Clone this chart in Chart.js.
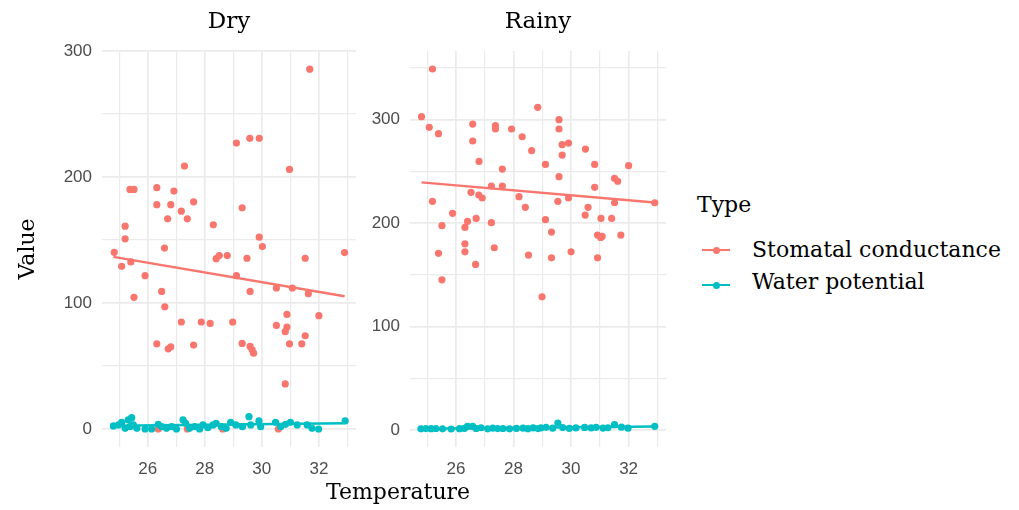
<!DOCTYPE html>
<html>
<head>
<meta charset="utf-8">
<script src="https://cdn.jsdelivr.net/npm/chart.js@4.4.1/dist/chart.umd.min.js"></script>
<style>
  html, body { margin: 0; padding: 0; background: #fff; }
  #wrap { position: relative; width: 1019px; height: 510px; overflow: hidden; font-family: "DejaVu Serif", serif; color: #000; }
  canvas { position: absolute; top: 0; }
  #dry { left: 0; }
  #rainy { left: 360px; }
  .txt { position: absolute; font-size: 22px; line-height: 26px; white-space: nowrap; }
  .sym { position: absolute; left: 702px; width: 28px; height: 2px; }
  .sym::after { content: ''; position: absolute; left: 10.5px; top: -2.5px; width: 7px; height: 7px; border-radius: 50%; background: inherit; }
</style>
</head>
<body>
<div id="wrap">
  <canvas id="dry" width="362" height="510"></canvas>
  <canvas id="rainy" width="312" height="510"></canvas>
  <div class="txt" style="left:326px; top:479px;">Temperature</div>
  <div class="txt" style="left:697px; top:192px;">Type</div>
  <div class="sym" style="top:249px; background:#F8766D;"></div>
  <div class="txt" style="left:752px; top:237px;">Stomatal conductance</div>
  <div class="sym" style="top:284px; background:#00BFC4;"></div>
  <div class="txt" style="left:752px; top:269px;">Water potential</div>
</div>
<script>
// Dry season - stomatal conductance
const dryScTemp = [31.68, 29.11, 29.58, 29.91, 27.29, 30.97, 25.38, 25.52, 26.32, 26.92,
  26.32, 26.81, 27.61, 27.18, 29.31, 26.70, 27.39, 25.21, 28.30, 25.21,
  29.91, 30.02, 26.59, 24.83, 32.90, 31.52, 28.40, 28.51, 28.79, 29.48,
  25.09, 25.41, 25.91, 25.52, 26.49, 26.60, 26.32, 26.72, 26.81, 27.18,
  27.61, 27.88, 28.19, 28.98, 29.11, 29.31, 29.59, 29.59, 29.66, 29.71,
  30.51, 30.51, 30.88, 30.88, 30.82, 30.97, 30.82, 31.07, 31.40, 31.52,
  31.63, 32.00, 26.37, 27.39, 28.63, 30.58];
const dryScValue = [285.6, 227, 230.7, 230.7, 208.7, 206, 190.1, 190.1, 191.5, 188.8,
  178, 178, 180.3, 172.9, 175.6, 166.8, 166.8, 161, 162, 150.9,
  152.2, 144.8, 143.6, 140.2, 140, 135.5, 135.2, 137.6, 137.6, 135.5,
  129.1, 132.6, 121.7, 104.5, 109.2, 97, 67.6, 63.6, 65.2, 84.9,
  66.6, 84.9, 83.8, 84.9, 121.7, 67.9, 109.2, 65.5, 62.8, 60.2,
  111.9, 82.2, 90.9, 80.9, 77.2, 67.6, 35.8, 111.9, 67.6, 74,
  107.4, 89.9, 0, 0, 0, 0];

// Dry season - water potential
const dryWpTemp = [24.80, 24.98, 25.09, 25.21, 25.32, 25.44, 25.38, 25.50, 25.62, 25.91,
  26.14, 26.37, 26.49, 26.66, 26.84, 27.01, 27.24, 27.33, 27.47, 27.65,
  27.82, 27.94, 28.11, 28.29, 28.40, 28.58, 28.75, 28.91, 29.09, 29.32,
  29.55, 29.61, 29.90, 29.96, 30.48, 30.66, 30.83, 31.00, 31.24, 31.59,
  31.76, 31.99, 32.92];
const dryWpValue = [2.4, 3.2, 5.3, 0.5, 7.2, 9, 1.8, 3.2, 0.5, 0,
  0, 3.7, 1.8, 0.5, 1.8, 0, 7.2, 4.5, 0.5, 1.8,
  0, 3.2, 1, 3.2, 4.5, 1.8, 0.5, 5.3, 3.2, 1.8,
  9.8, 3.2, 6.4, 1.8, 5.3, 1.8, 3.7, 5.3, 3.2, 3.2,
  0.5, 0, 6.4];

// Rainy season - stomatal conductance
const rainyScTemp = [25.18, 24.80, 25.07, 25.39, 26.58, 26.58, 27.37, 27.37, 27.93, 28.30,
  28.84, 28.63, 29.58, 29.58, 29.69, 29.91, 29.69, 30.50, 26.80, 27.61,
  29.11, 30.82, 32.00, 29.58, 31.51, 31.62, 30.82, 27.23, 27.61, 26.52,
  26.79, 26.91, 28.19, 29.91, 25.18, 29.54, 31.51, 32.91, 30.59, 28.41,
  25.88, 30.49, 26.70, 26.40, 29.11, 31.04, 31.41, 25.51, 26.31, 27.23,
  29.32, 30.92, 31.03, 31.08, 31.73, 25.39, 26.31, 26.31, 27.33, 28.52,
  29.32, 30.00, 30.92, 26.68, 25.51, 28.99];
const rainyScValue = [349, 302.9, 292.6, 286.5, 295.8, 279.4, 294.2, 291, 291, 283.5,
  312, 270, 300, 291, 275.8, 277.4, 265.8, 271.6, 259.7, 252.3,
  256.8, 256.8, 255.5, 244.9, 243.4, 240.5, 234.6, 235.9, 235.9, 229.8,
  227.2, 224.3, 225.6, 224.3, 221.1, 221.1, 219.7, 219.7, 215.3, 215.3,
  209.5, 207.8, 204.6, 201.7, 203.3, 204.6, 204.6, 197.5, 195.9, 200.4,
  191.4, 188.5, 186.2, 187.2, 188.5, 170.8, 180, 172.3, 176.2, 169.1,
  166.5, 172.3, 166.5, 160.1, 145.2, 128.8];

// Rainy season - water potential
const rainyWpTemp = [24.78, 24.95, 25.13, 25.30, 25.53, 25.83, 26.12, 26.29, 26.40, 26.58,
  26.70, 26.87, 27.10, 27.28, 27.45, 27.63, 27.86, 28.10, 28.33, 28.50,
  28.68, 28.85, 28.95, 29.13, 29.36, 29.54, 29.71, 29.94, 30.17, 30.47,
  30.70, 30.87, 31.11, 31.28, 31.51, 31.75, 31.98, 32.91];
const rainyWpValue = [1.2, 1.4, 1.3, 1.5, 1.2, 1.0, 1.3, 1.6, 3.6, 3.6,
  1.5, 2.2, 1.2, 1.8, 1.4, 1.5, 1.2, 1.6, 1.9, 1.3,
  2.0, 1.4, 2.0, 2.6, 1.8, 6.8, 2.4, 1.7, 2.0, 2.5,
  2.0, 2.6, 1.9, 2.2, 5.2, 2.8, 1.8, 3.6];

// fitted lines (ends)
const trendTemp = [24.8, 32.9];
const dryScTrend = [136.6, 105.3];
const dryWpTrend = [2.6, 4.5];
const rainyScTrend = [239.4, 220.0];
const rainyWpTrend = [1.2, 3.3];

const xMin = 24.4;
const xMax = 33.3;

const red = '#F8766D';
const teal = '#00BFC4';
const gridColor = '#EBEBEB';
const tickColor = '#4D4D4D';

function pts(xs, ys) {
  return xs.map((x, i) => ({ x: x, y: ys[i] }));
}

function gridWidth(ctx, major) {
  const v = ctx.tick ? ctx.tick.value : 0;
  return Math.abs(v % major) < 1e-6 ? 1.7 : 1.2;
}

function crearPanel(id, titulo, sc, wp, scTrend, wpTrend, yMin, yMax, yWidth, yTitle) {
  const ctx = document.getElementById(id).getContext('2d');
  return new Chart(ctx, {
    type: 'scatter',
    data: {
      datasets: [
        { data: pts(trendTemp, wpTrend), showLine: true, borderColor: teal, borderWidth: 2.5, pointRadius: 0, xAxisID: 'x', yAxisID: 'y' },
        { data: pts(trendTemp, scTrend), showLine: true, borderColor: red, borderWidth: 2.5, pointRadius: 0, xAxisID: 'x', yAxisID: 'y' },
        { data: wp, backgroundColor: teal, borderWidth: 0, pointRadius: 3.6, xAxisID: 'x', yAxisID: 'y' },
        { data: sc, backgroundColor: red, borderWidth: 0, pointRadius: 3.6, xAxisID: 'x', yAxisID: 'y' }
      ]
    },
    options: {
      responsive: false,
      animation: false,
      events: [],
      layout: { padding: { left: 0, right: 6, top: 0, bottom: 0 } },
      plugins: {
        legend: { display: false },
        tooltip: { enabled: false }
      },
      scales: {
        x: {
          type: 'linear',
          position: 'bottom',
          min: xMin,
          max: xMax,
          border: { display: false },
          grid: { color: gridColor, lineWidth: c => gridWidth(c, 2), drawTicks: false },
          ticks: {
            stepSize: 1,
            includeBounds: false,
            autoSkip: false,
            maxRotation: 0,
            padding: 12,
            color: tickColor,
            font: { family: 'Liberation Sans', size: 17 },
            callback: v => (v % 2 === 0 ? v : '')
          },
          afterFit: s => { s.height = 63; }
        },
        xTop: {
          type: 'linear',
          axis: 'x',
          position: 'top',
          border: { display: false },
          grid: { display: false, drawTicks: false },
          ticks: { display: false },
          title: {
            display: true,
            text: titulo,
            color: '#000',
            font: { family: 'DejaVu Serif', size: 23 },
            padding: { top: 8, bottom: 0 }
          },
          afterFit: s => { s.height = 51; }
        },
        y: {
          type: 'linear',
          min: yMin,
          max: yMax,
          border: { display: false },
          grid: { color: gridColor, lineWidth: c => gridWidth(c, 100), drawTicks: false },
          ticks: {
            stepSize: 50,
            includeBounds: false,
            autoSkip: false,
            padding: 10,
            color: tickColor,
            font: { family: 'Liberation Sans', size: 17 },
            callback: v => (v % 100 === 0 ? v : '')
          },
          title: {
            display: !!yTitle,
            text: yTitle || '',
            color: '#000',
            font: { family: 'DejaVu Serif', size: 22 },
            padding: { top: 15, bottom: 0 }
          },
          afterFit: s => { s.width = yWidth; }
        }
      }
    }
  });
}

crearPanel('dry', 'Dry', pts(dryScTemp, dryScValue), pts(dryWpTemp, dryWpValue),
  dryScTrend, dryWpTrend, -14.3, 300, 102, 'Value');
crearPanel('rainy', 'Rainy', pts(rainyScTemp, rainyScValue), pts(rainyWpTemp, rainyWpValue),
  rainyScTrend, rainyWpTrend, -16.4, 366.4, 50, null);
</script>
</body>
</html>
